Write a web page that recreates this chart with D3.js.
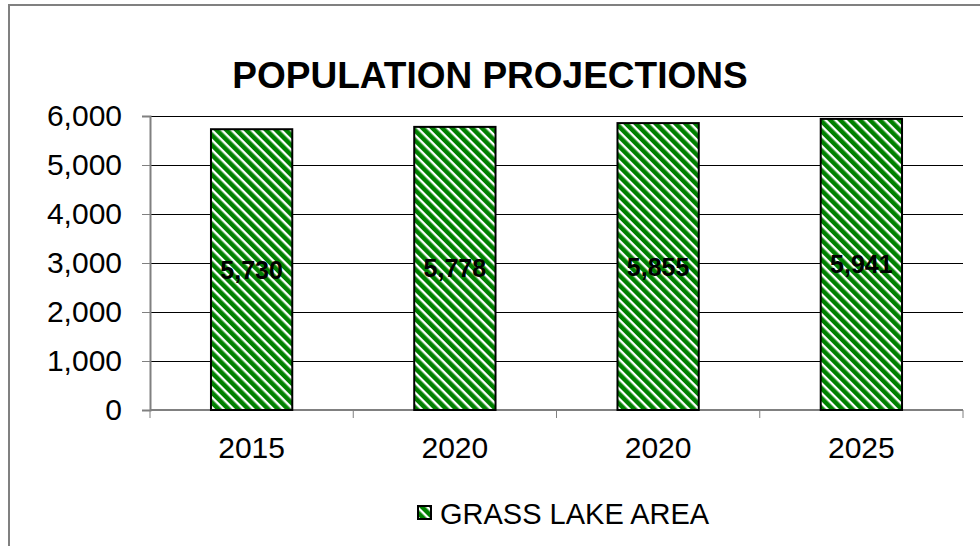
<!DOCTYPE html>
<html lang="en">
<head>
    <meta charset="UTF-8">
    <style>
        body { margin: 0; background: #fff; }
        text { font-family: Arial, "Liberation Sans", sans-serif; }
    </style>
    <script src="https://d3js.org/d3.v7.min.js"></script>
    <title>Population Projections</title>
</head>
<body>
    <svg width="980" height="546"></svg>
    <script>

        // chart data
        var years = ["2015", "2020", "2020", "2025"];
        var population = [5730, 5778, 5855, 5941];
        var yTicks = [0, 1000, 2000, 3000, 4000, 5000, 6000];
        var seriesName = "GRASS LAKE AREA";

        var svg = d3.select("svg");

        var margin = {left: 150, right: 17, top: 116, bottom: 136};
        var width = 980 - margin.left - margin.right,
            height = 546 - margin.top - margin.bottom;

        // striped fill
        var defs = svg.append("defs");
        var pat = defs.append("pattern")
            .attr("id", "stripes")
            .attr("patternUnits", "userSpaceOnUse")
            .attr("width", 7)
            .attr("height", 7)
            .attr("patternTransform", "rotate(-45)");
        pat.append("rect").attr("width", 7).attr("height", 7).attr("fill", "#fff");
        pat.append("rect").attr("width", 4.6).attr("height", 7).attr("fill", "#008000");

        // outer frame (only top and left visible)
        svg.append("path")
            .attr("d", "M9,546V5H980")
            .attr("fill", "none")
            .attr("stroke", "#808080")
            .attr("stroke-width", 2);

        svg.append("text")
            .attr("x", 490)
            .attr("y", 88)
            .attr("text-anchor", "middle")
            .attr("font-size", 37)
            .attr("font-weight", "bold")
            .text("POPULATION PROJECTIONS");

        var g = svg.append("g")
            .attr("transform", "translate(" + margin.left + "," + margin.top + ")");

        var x = d3.scaleBand()
            .domain(d3.range(years.length))
            .range([0, width])
            .paddingInner(0.6)
            .paddingOuter(0.3);

        var y = d3.scaleLinear()
            .domain([0, 6000])
            .range([height, 0]);

        // gridlines
        g.selectAll(".grid")
            .data(yTicks.slice(1))
            .enter().append("line")
            .attr("x1", 0)
            .attr("x2", width)
            .attr("y1", function(d) { return y(d) + 0.5; })
            .attr("y2", function(d) { return y(d) + 0.5; })
            .attr("stroke", "#000")
            .attr("stroke-width", 1);

        // y axis
        var yAxis = g.append("g")
            .call(d3.axisLeft(y).tickValues(yTicks).tickSize(8).tickPadding(20)
                .tickFormat(d3.format(",")));
        yAxis.select(".domain").attr("stroke", "#808080").attr("stroke-width", 2);
        yAxis.selectAll(".tick line").attr("stroke", "#808080");
        yAxis.selectAll("text").attr("font-size", 30).attr("fill", "#000")
            .attr("font-family", "Arial, 'Liberation Sans', sans-serif");

        // x axis with ticks at category boundaries
        var step = width / years.length;
        var xAxis = g.append("g").attr("transform", "translate(0," + height + ")");
        xAxis.append("line")
            .attr("x1", 0).attr("x2", width)
            .attr("stroke", "#808080").attr("stroke-width", 2);
        xAxis.selectAll(".xt")
            .data(d3.range(years.length + 1))
            .enter().append("line")
            .attr("x1", function(d) { return d * step; })
            .attr("x2", function(d) { return d * step; })
            .attr("y1", 0).attr("y2", 8)
            .attr("stroke", "#808080");
        xAxis.selectAll(".xl")
            .data(years)
            .enter().append("text")
            .attr("x", function(d, i) { return x(i) + x.bandwidth() / 2; })
            .attr("y", 48)
            .attr("text-anchor", "middle")
            .attr("font-size", 30)
            .text(function(d) { return d; });

        // bars
        g.selectAll(".bar")
            .data(population)
            .enter().append("rect")
            .attr("x", function(d, i) { return x(i); })
            .attr("y", function(d) { return y(d); })
            .attr("width", x.bandwidth())
            .attr("height", function(d) { return height - y(d); })
            .attr("fill", "url(#stripes)")
            .attr("stroke", "#000")
            .attr("stroke-width", 2);

        // value labels
        g.selectAll(".val")
            .data(population)
            .enter().append("text")
            .attr("x", function(d, i) { return x(i) + x.bandwidth() / 2; })
            .attr("y", function(d) { return y(d / 2) + 9; })
            .attr("text-anchor", "middle")
            .attr("font-size", 25)
            .attr("font-weight", "bold")
            .text(function(d) { return d3.format(",")(d); });

        // legend
        var leg = svg.append("g").attr("transform", "translate(418,506)");
        leg.append("rect")
            .attr("width", 13).attr("height", 13)
            .attr("fill", "url(#stripes)")
            .attr("stroke", "#000").attr("stroke-width", 2);
        leg.append("text")
            .attr("x", 22)
            .attr("y", 18)
            .attr("font-size", 29)
            .text(seriesName);

    </script>
</body>
</html>
